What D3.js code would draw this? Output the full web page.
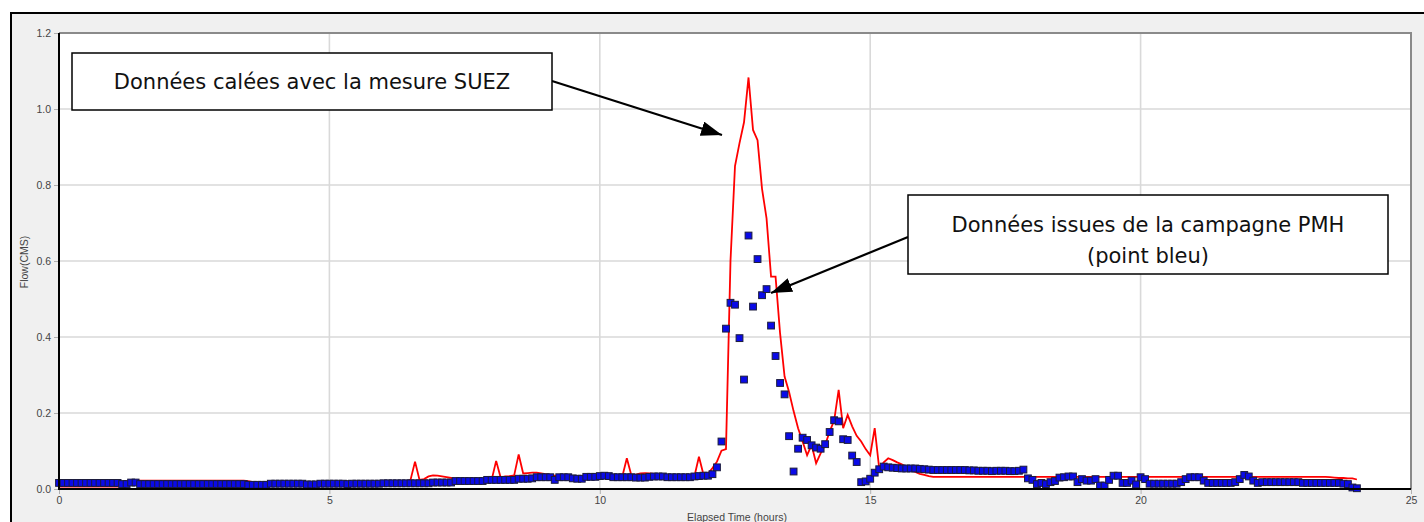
<!DOCTYPE html>
<html>
<head>
<meta charset="utf-8">
<script src="https://cdn.jsdelivr.net/npm/d3@7"></script>
<style>
  html, body { margin: 0; padding: 0; background: #ffffff; }
  svg { display: block; }
</style>
</head>
<body>
<svg id="chart" width="1424" height="522"></svg>
<script>
// Sampling step of both series: 5 minutes, expressed in hours
const stepHours = 5 / 60;

// Simulated flow (CMS), one row per hour of 12 five-minute samples
const modelFlow = [
  [0.006,0.006,0.006,0.006,0.006,0.006,0.006,0.006,0.006,0.006,0.006,0.006],
  [0.006,0.006,0.014,0.021,0.022,0.022,0.022,0.022,0.022,0.022,0.022,0.022],
  [0.022,0.022,0.022,0.022,0.022,0.022,0.022,0.022,0.022,0.022,0.022,0.022],
  [0.022,0.022,0.022,0.022,0.022,0.022,0.021,0.018,0.016,0.016,0.016,0.016],
  [0.016,0.016,0.016,0.016,0.016,0.016,0.016,0.016,0.016,0.016,0.016,0.016],
  [0.016,0.016,0.016,0.016,0.016,0.016,0.016,0.016,0.016,0.016,0.016,0.016],
  [0.017,0.017,0.017,0.018,0.018,0.019,0.024,0.072,0.024,0.026,0.033,0.036],
  [0.035,0.033,0.031,0.029,0.026,0.024,0.024,0.024,0.024,0.024,0.024,0.024],
  [0.024,0.074,0.030,0.033,0.034,0.036,0.091,0.041,0.042,0.043,0.043,0.041],
  [0.039,0.037,0.035,0.034,0.034,0.033,0.033,0.033,0.033,0.033,0.033,0.033],
  [0.033,0.033,0.033,0.033,0.033,0.033,0.081,0.036,0.038,0.041,0.042,0.041],
  [0.040,0.038,0.037,0.034,0.034,0.034,0.034,0.034,0.034,0.034,0.085,0.038],
  [0.040,0.055,0.072,0.101,0.105,0.600,0.850,0.910,0.965,1.083,0.945,0.918],
  [0.790,0.712,0.559,0.559,0.410,0.296,0.255,0.205,0.160,0.125,0.089,0.116],
  [0.068,0.094,0.116,0.151,0.180,0.261,0.160,0.195,0.165,0.140,0.125,0.105],
  [0.089,0.160,0.054,0.070,0.081,0.076,0.070,0.065,0.058,0.050,0.045,0.040],
  [0.037,0.034,0.032,0.032,0.032,0.032,0.032,0.032,0.032,0.032,0.032,0.032],
  [0.032,0.032,0.032,0.032,0.032,0.032,0.032,0.032,0.032,0.032,0.032,0.032],
  [0.032,0.032,0.032,0.032,0.032,0.032,0.032,0.032,0.032,0.032,0.032,0.032],
  [0.032,0.032,0.032,0.032,0.032,0.032,0.032,0.032,0.032,0.032,0.032,0.032],
  [0.032,0.032,0.032,0.032,0.032,0.032,0.032,0.032,0.032,0.032,0.032,0.032],
  [0.032,0.032,0.032,0.032,0.032,0.032,0.032,0.032,0.032,0.032,0.032,0.032],
  [0.032,0.032,0.032,0.032,0.032,0.032,0.032,0.032,0.032,0.032,0.032,0.032],
  [0.032,0.032,0.032,0.032,0.032,0.032,0.031,0.030,0.029,0.029,0.028,0.028],
  [0.025]
];

// Measured flow from the PMH campaign (CMS), same layout
const pmhFlow = [
  [0.016,0.016,0.016,0.016,0.016,0.016,0.016,0.016,0.016,0.016,0.016,0.016],
  [0.016,0.016,0.013,0.013,0.017,0.017,0.013,0.013,0.013,0.013,0.013,0.013],
  [0.013,0.013,0.013,0.013,0.013,0.013,0.013,0.013,0.013,0.013,0.013,0.013],
  [0.013,0.013,0.013,0.013,0.013,0.013,0.011,0.011,0.011,0.011,0.011,0.014],
  [0.014,0.014,0.014,0.014,0.014,0.014,0.014,0.012,0.012,0.012,0.014,0.014],
  [0.014,0.014,0.014,0.014,0.013,0.014,0.014,0.014,0.014,0.014,0.014,0.014],
  [0.015,0.015,0.015,0.015,0.015,0.015,0.015,0.015,0.015,0.015,0.015,0.017],
  [0.017,0.017,0.017,0.017,0.021,0.021,0.021,0.021,0.021,0.021,0.021,0.024],
  [0.024,0.024,0.024,0.024,0.024,0.024,0.027,0.027,0.027,0.028,0.031,0.031],
  [0.031,0.031,0.024,0.031,0.031,0.031,0.028,0.027,0.027,0.032,0.032,0.032],
  [0.034,0.035,0.034,0.031,0.031,0.031,0.031,0.031,0.030,0.030,0.030,0.032],
  [0.033,0.033,0.033,0.031,0.031,0.031,0.031,0.031,0.031,0.033,0.034,0.035],
  [0.035,0.039,0.057,0.125,0.422,0.490,0.485,0.397,0.288,0.667,0.480,0.605],
  [0.510,0.526,0.430,0.350,0.279,0.249,0.139,0.046,0.106,0.135,0.129,0.115],
  [0.109,0.106,0.118,0.150,0.181,0.178,0.131,0.129,0.088,0.071,0.018,0.020],
  [0.027,0.043,0.052,0.059,0.057,0.056,0.055,0.054,0.054,0.054,0.054,0.053],
  [0.052,0.051,0.050,0.050,0.050,0.050,0.050,0.050,0.050,0.050,0.049,0.049],
  [0.048,0.048,0.048,0.047,0.048,0.048,0.048,0.047,0.047,0.048,0.051,0.028],
  [0.024,0.013,0.016,0.013,0.018,0.021,0.030,0.031,0.033,0.033,0.018,0.026],
  [0.022,0.022,0.026,0.009,0.009,0.024,0.035,0.035,0.016,0.016,0.022,0.012],
  [0.031,0.026,0.014,0.014,0.014,0.014,0.014,0.014,0.014,0.018,0.026,0.031],
  [0.031,0.031,0.022,0.016,0.016,0.016,0.016,0.016,0.016,0.018,0.026,0.037],
  [0.033,0.022,0.016,0.018,0.018,0.018,0.018,0.018,0.018,0.018,0.018,0.018],
  [0.016,0.016,0.016,0.016,0.016,0.016,0.016,0.016,0.016,0.014,0.013,0.004],
  [0.002]
];

const xTicks = [0, 5, 10, 15, 20, 25];
const yTicks = [0.0, 0.2, 0.4, 0.6, 0.8, 1.0, 1.2];
const xTitle = "Elapsed Time (hours)";
const yTitle = "Flow(CMS)";
const calloutModel = ["Données calées avec la mesure SUEZ"];
const calloutPmh = ["Données issues de la campagne PMH", "(point bleu)"];

// Turn hourly rows into timed samples
const toSeries = rows => rows.flat().map((v, i) => ({ t: i * stepHours, v }));
const modelSeries = toSeries(modelFlow);
const pmhSeries = toSeries(pmhFlow);

const svg = d3.select("#chart");
const W = 1424, H = 522;
const plot = { left: 59, right: 1411, top: 33, bottom: 489 };

const x = d3.scaleLinear().domain([0, 25]).range([plot.left, plot.right]);
const y = d3.scaleLinear().domain([0, 1.2]).range([plot.bottom, plot.top]);

// Panel background and frame
svg.append("rect").attr("width", W).attr("height", H).attr("fill", "#ffffff");
svg.append("rect").attr("x", 11).attr("y", 13).attr("width", W).attr("height", H)
  .attr("fill", "#f0f0f0").attr("stroke", "#000").attr("stroke-width", 2);

// Plot area
svg.append("rect")
  .attr("x", plot.left).attr("y", plot.top)
  .attr("width", plot.right - plot.left).attr("height", plot.bottom - plot.top)
  .attr("fill", "#ffffff");

// Grid lines
const grid = svg.append("g");
grid.selectAll(".gx").data(xTicks.filter(d => d > 0 && d < 25)).join("line")
  .attr("x1", d => x(d)).attr("x2", d => x(d))
  .attr("y1", plot.top).attr("y2", plot.bottom)
  .attr("stroke", "#d9d9d9").attr("stroke-width", 1.6);
grid.selectAll(".gy").data(yTicks.filter(d => d > 0 && d < 1.2)).join("line")
  .attr("x1", plot.left).attr("x2", plot.right)
  .attr("y1", d => y(d)).attr("y2", d => y(d))
  .attr("stroke", "#d9d9d9").attr("stroke-width", 1.6);

// Plot top / right border
svg.append("path")
  .attr("d", `M${plot.left},${plot.top}H${plot.right}V${plot.bottom}`)
  .attr("fill", "none").attr("stroke", "#8a8a8a").attr("stroke-width", 2);

// Simulated flow line
const line = d3.line().x(d => x(d.t)).y(d => y(d.v));
svg.append("path").datum(modelSeries)
  .attr("d", line)
  .attr("fill", "none").attr("stroke", "#ff0000").attr("stroke-width", 1.8)
  .attr("stroke-linejoin", "miter");

// Measured points
const s = 6.8;
svg.append("g").selectAll("rect").data(pmhSeries).join("rect")
  .attr("x", d => x(d.t) - s / 2).attr("y", d => y(d.v) - s / 2)
  .attr("width", s).attr("height", s)
  .attr("fill", "#0a0ae8").attr("stroke", "#1c1c3c").attr("stroke-width", 1);

// Axes
const axisColor = "#444";
const yAxis = svg.append("g").attr("transform", `translate(${plot.left},0)`)
  .call(d3.axisLeft(y).tickValues(yTicks).tickFormat(d3.format(".1f")).tickSize(5).tickPadding(3));
const xAxis = svg.append("g").attr("transform", `translate(0,${plot.bottom})`)
  .call(d3.axisBottom(x).tickValues(xTicks).tickSize(5).tickPadding(3));
[yAxis, xAxis].forEach(a => {
  a.select(".domain").remove();
  a.selectAll(".tick line").attr("stroke", "#b0b0b0");
  a.selectAll(".tick text").attr("fill", axisColor)
    .style("font-family", "'Liberation Sans', Arial, sans-serif").style("font-size", "10.5px");
});

// Axis lines
svg.append("line").attr("x1", plot.left).attr("x2", plot.left)
  .attr("y1", plot.top).attr("y2", plot.bottom + 1)
  .attr("stroke", "#000").attr("stroke-width", 2);
svg.append("line").attr("x1", plot.left - 1).attr("x2", plot.right)
  .attr("y1", plot.bottom).attr("y2", plot.bottom)
  .attr("stroke", "#000").attr("stroke-width", 2);

// Axis titles
svg.append("text")
  .attr("x", (plot.left + plot.right) / 2 + 2).attr("y", 521)
  .attr("text-anchor", "middle").attr("fill", axisColor)
  .style("font-family", "'Liberation Sans', Arial, sans-serif").style("font-size", "10.5px")
  .text(xTitle);
svg.append("text")
  .attr("transform", `translate(28,${(plot.top + plot.bottom) / 2 + 1}) rotate(-90)`)
  .attr("text-anchor", "middle").attr("fill", axisColor)
  .style("font-family", "'Liberation Sans', Arial, sans-serif").style("font-size", "10.5px")
  .text(yTitle);

// Callouts
const defs = svg.append("defs");
defs.append("marker").attr("id", "head")
  .attr("viewBox", "0 0 20 14").attr("refX", 20).attr("refY", 7)
  .attr("markerWidth", 21).attr("markerHeight", 15)
  .attr("markerUnits", "userSpaceOnUse").attr("orient", "auto")
  .append("path").attr("d", "M0,0L20,7L0,14Z").attr("fill", "#000");

function callout(box, lines, from, to) {
  svg.append("line")
    .attr("x1", from[0]).attr("y1", from[1]).attr("x2", to[0]).attr("y2", to[1])
    .attr("stroke", "#000").attr("stroke-width", 2.2).attr("marker-end", "url(#head)");
  svg.append("rect")
    .attr("x", box.x).attr("y", box.y).attr("width", box.w).attr("height", box.h)
    .attr("fill", "#fff").attr("stroke", "#000").attr("stroke-width", 1.5);
  const t = svg.append("text").attr("text-anchor", "middle")
    .style("font-family", "'DejaVu Sans', Verdana, sans-serif")
    .style("font-size", "21px").attr("fill", "#111");
  lines.forEach((l, i) => {
    t.append("tspan").attr("x", box.x + box.w / 2)
      .attr("y", box.firstBaseline + i * 31).text(l);
  });
}
callout({ x: 72, y: 53, w: 480, h: 57, firstBaseline: 89 }, calloutModel, [552, 81], [722, 135]);
callout({ x: 908, y: 195, w: 480, h: 79, firstBaseline: 232 }, calloutPmh, [908, 237], [771, 293]);
</script>
</body>
</html>
